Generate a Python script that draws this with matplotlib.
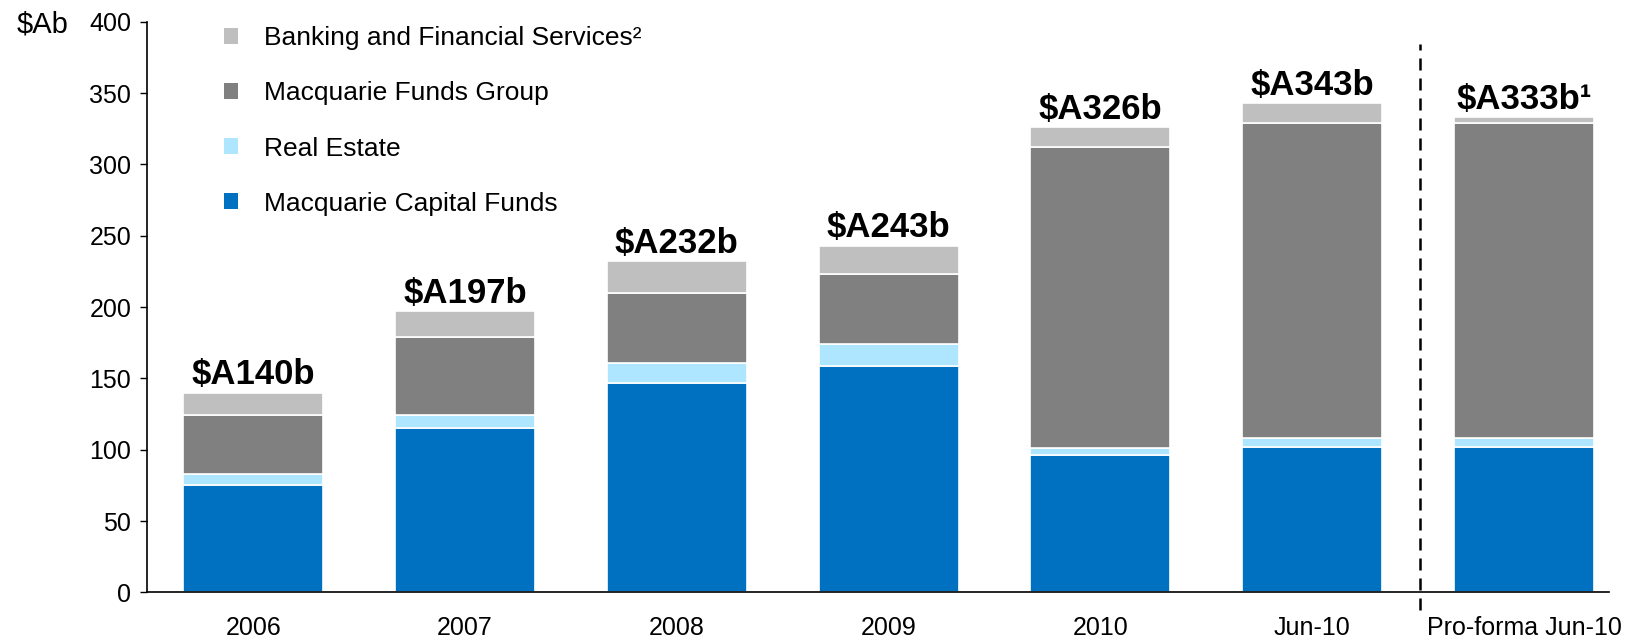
import numpy as np
import matplotlib
matplotlib.use('Agg')
import matplotlib.pyplot as plt
from matplotlib.patches import Patch

plt.rcParams['font.family'] = ['Liberation Sans', 'DejaVu Sans']

# Assets under management by division ($Ab)
categories = ['2006', '2007', '2008', '2009', '2010', 'Jun-10', 'Pro-forma Jun-10']
capital_funds = [75, 115, 147, 159, 96, 102, 102]
real_estate = [8, 9, 14, 15, 5.5, 6, 6]
funds_group = [41.5, 55, 48.5, 49.5, 210.5, 221, 221]
banking = [15.5, 18, 22.5, 19.5, 14, 14, 4]
totals = ['$A140b', '$A197b', '$A232b', '$A243b', '$A326b', '$A343b', '$A333b\u00b9']

series_names = ['Macquarie Capital Funds', 'Real Estate', 'Macquarie Funds Group',
                'Banking and Financial Services\u00b2']
colors = ['#0070C0', '#AEE6FF', '#808080', '#BFBFBF']

def main(output_file='out.png'):
    fig = plt.figure(figsize=(16.44, 6.38), dpi=100)
    ax = fig.add_axes([0.0892, 0.0715, 0.8898, 0.8945])

    x = np.arange(len(categories))
    bottom = np.zeros(len(categories))
    for vals, col in zip([capital_funds, real_estate, funds_group, banking], colors):
        ax.bar(x, vals, width=0.661, bottom=bottom, color=col, edgecolor='white', linewidth=1.2)
        bottom = bottom + np.array(vals)

    # Total labels above each bar
    for xi, top, lab in zip(x, bottom, totals):
        ax.annotate(lab, (xi, top), xytext=(0, 1), textcoords='offset points',
                    ha='center', va='bottom', fontsize=25, fontweight='bold')

    ax.set_xlim(-0.503, 6.403)
    ax.set_ylim(0, 400)
    ax.set_yticks(range(0, 401, 50))
    ax.set_xticks(x)
    ax.set_xticklabels(categories)
    ax.tick_params(axis='x', length=0, pad=17, labelsize=18)
    ax.tick_params(axis='y', length=5, width=1, labelsize=18, pad=6)
    for s in ['top', 'right']:
        ax.spines[s].set_visible(False)
    ax.spines['left'].set_linewidth(1.2)
    ax.spines['bottom'].set_linewidth(1.2)

    # Dashed separator before the pro-forma bar
    ax.plot([5.51, 5.51], [-0.031, 0.961], transform=ax.get_xaxis_transform(),
            color='black', linestyle=(0, (4.8, 3.2)), linewidth=1.8, clip_on=False)

    # Unit label
    fig.text(0.0102, 0.961, '$Ab', fontsize=21, ha='left', va='center')

    handles = [Patch(facecolor=c) for c in colors[::-1]]
    ax.legend(handles, series_names[::-1], loc='upper left', bbox_to_anchor=(0.0528, 0.992),
              frameon=False, fontsize=19, handlelength=0.55, handleheight=0.55,
              handletextpad=0.96, labelspacing=1.18, borderpad=0, borderaxespad=0)

    plt.savefig(output_file, dpi=100)
    plt.close()

if __name__ == "__main__":
    main()
